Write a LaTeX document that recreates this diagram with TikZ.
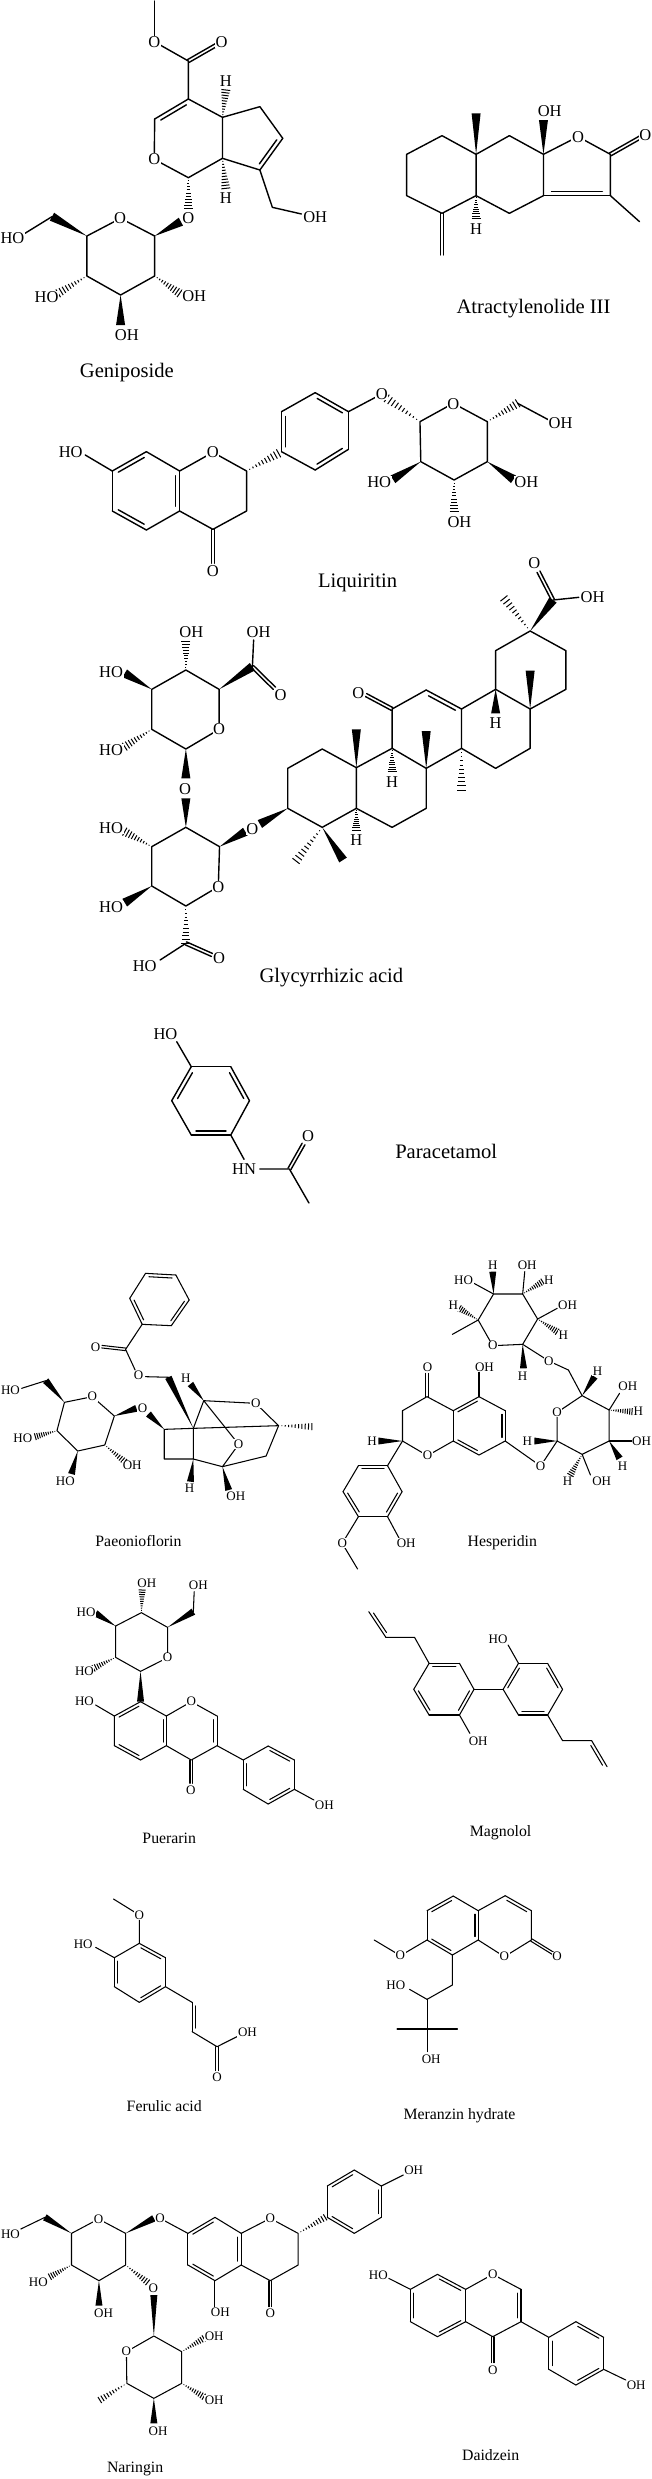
\documentclass[tikz,border=0pt]{standalone}
\usepackage{fontspec}
\setmainfont{Liberation Serif}
\usetikzlibrary{calc}
\tikzset{
	zoomed/.style={x=.4158pt,y=-.33333pt,shift={(0pt,-#1pt)}},
	bond/.style={line width=1.4pt,line cap=round,line join=round},
	thinbond/.style={bond/.append style={line width=1.05pt}},
	hashbond/.style={line width=1pt},
	atom/.style={fill=white,inner sep=.6pt,font=\fontsize{16.5}{16.5}\selectfont},
	atomsmall/.style={atom,font=\fontsize{13}{13}\selectfont},
	title/.style={font=\fontsize{20.6}{20.6}\selectfont},
	titlesmall/.style={font=\fontsize{15.8}{15.8}\selectfont}
}
\def\wdw{4.5pt}
\def\dbloff{4pt}
\def\dbl(#1)(#2){\draw[bond] (#1) -- (#2); \draw[bond] ($(#1)!.12!(#2)!\dbloff!-90:(#2)$) -- ($(#1)!.88!(#2)!\dbloff!-90:(#2)$);}
\def\cdbl(#1)(#2){\draw[bond] ($(#1)!.4*\dbloff!90:(#2)$) -- ($(#2)!.4*\dbloff!-90:(#1)$); \draw[bond] ($(#1)!.4*\dbloff!-90:(#2)$) -- ($(#2)!.4*\dbloff!90:(#1)$);}
\def\wdg(#1)(#2){\fill ($(#2)!\wdw!90:(#1)$) -- (#1) -- ($(#2)!\wdw!-90:(#1)$) -- cycle;}
\def\hsh(#1)(#2){\foreach \t in {.1,.2,...,1} {\draw[hashbond] ($(#1)!\t!(#2)!\t*\wdw!90:(#1)$) -- ($(#1)!\t!(#2)!\t*\wdw!-90:(#1)$);}}
\begin{document}
\begin{tikzpicture}
	\useasboundingbox (0pt,0pt) rectangle (652pt,-2479pt);
	
	%%%%% geniposide %%%%%
	\begin{scope}[zoomed=0]
		\draw[bond] (372,3) -- (372,110);
		\draw[bond] (371,125) -- (453,183) -- (453,297);
		\cdbl(453,183)(520,135);
		\dbl(372,357)(453,297);
		\draw[bond] (372,357) -- (371,478) -- (453,533) -- (535,475) -- (535,352) -- (453,297);
		\draw[bond] (535,352) -- (625,320) -- (680,415);
		\dbl(680,415)(625,510);
		\draw[bond] (535,475) -- (625,510) -- (655,622) -- (725,642);
		\hsh(535,352)(543,270);
		\hsh(535,475)(543,565);
		\hsh(453,533)(453,625);
		\wdg(372,708)(435,665);
		\draw[bond] (209,708) -- (290,655) -- (372,708) -- (372,828) -- (290,885) -- (209,828) -- cycle;
		\wdg(209,708)(125,650);
		\draw[bond] (125,650) -- (60,700);
		\hsh(372,828)(432,880);
		\hsh(209,828)(140,880);
		\wdg(290,885)(290,975);
		\node[atom] (g1) at (371,125) {O};
		\node[atom] (g2) at (533,125) {O};
		\node[atom] (g3) at (543,243) {H};
		\node[atom] (g4) at (371,478) {O};
		\node[atom] (g5) at (543,595) {H};
		\node[atom] (g6) at (453,655) {O};
		\node[atom] (g7) at (758,650) {OH};
		\node[atom] (g8) at (289,655) {O};
		\node[atom] (g9) at (30,715) {HO};
		\node[atom] (g10) at (112,890) {HO};
		\node[atom] (g11) at (467,888) {OH};
		\node[atom] (g12) at (305,1005) {OH};
		\node[title] (geniposide) at (305,1118) {Geniposide};
		
		%%%%% atractylenolide %%%%%
		\draw[bond] (1063,407) -- (1145,463) -- (1145,587) -- (1063,640) -- (978,587) -- (978,463) -- cycle;
		\draw[bond] (1145,463) -- (1225,407) -- (1307,463) -- (1307,587) -- (1225,640) -- (1145,587);
		\draw[bond] (1307,463) -- (1390,410) -- (1468,463) -- (1468,587) -- (1538,665);
		\dbl(1468,587)(1307,587);
		\cdbl(1468,463)(1540,412);
		\cdbl(1063,640)(1063,765);
		\wdg(1145,463)(1145,340);
		\wdg(1307,463)(1307,360);
		\hsh(1145,587)(1145,655);
		\node[atom] (a1) at (1390,410) {O};
		\node[atom] (a2) at (1552,405) {O};
		\node[atom] (a3) at (1322,333) {OH};
		\node[atom] (a4) at (1145,688) {H};
		\node[title] (atractylenolide) at (1283,925) {Atractylenolide III};
	\end{scope}
	
	%%%%% liquiritin %%%%%
	\begin{scope}[zoomed=400]
		\draw[bond] (205,165) -- (270,213);
		\dbl(270,213)(352,155);
		\draw[bond] (352,155) -- (432,213) -- (512,157) -- (593,213) -- (593,333) -- (512,388) -- (432,333);
		\dbl(432,213)(432,333);
		\draw[bond] (432,333) -- (352,390);
		\dbl(352,390)(270,333);
		\draw[bond] (270,333) -- (270,213);
		\cdbl(512,388)(512,490);
		\hsh(593,213)(670,160);
		\dbl(677,155)(677,35);
		\draw[bond] (677,35) -- (758,-22);
		\dbl(758,-22)(838,35);
		\draw[bond] (838,35) -- (838,148);
		\dbl(838,148)(758,210);
		\draw[bond] (758,210) -- (677,155);
		\draw[bond] (838,35) -- (918,-18);
		\hsh(1010,65)(930,-5);
		\draw[bond] (1010,65) -- (1090,10) -- (1172,65) -- (1172,185) -- (1092,240) -- (1012,185) -- cycle;
		\hsh(1172,65)(1245,10);
		\draw[bond] (1245,10) -- (1320,60);
		\wdg(1012,185)(945,238);
		\wdg(1172,185)(1235,238);
		\hsh(1092,240)(1092,335);
		\node[atom] (l1) at (170,157) {HO};
		\node[atom] (l2) at (512,157) {O};
		\node[atom] (l3) at (512,513) {O};
		\node[atom] (l4) at (918,-18) {O};
		\node[atom] (l5) at (1090,12) {O};
		\node[atom] (l6) at (1348,68) {OH};
		\node[atom] (l7) at (912,245) {HO};
		\node[atom] (l8) at (1266,245) {OH};
		\node[atom] (l9) at (1105,365) {OH};
		\node[title] (liquiritin) at (860,548) {Liquiritin};
	\end{scope}
	
	%%%%% glycyrrhizic acid %%%%%
	\begin{scope}[zoomed=600]
		\cdbl(1330,0)(1295,-85);
		\draw[bond] (1330,0) -- (1392,-8);
		\wdg(1275,93)(1330,0);
		\hsh(1275,93)(1212,-5);
		\draw[bond] (1275,93) -- (1361,152) -- (1361,268) -- (1275,327) -- (1192,268) -- (1192,152) -- cycle;
		\wdg(1275,327)(1275,212);
		\wdg(1192,268)(1192,340);
		\draw[bond] (1275,327) -- (1275,445) -- (1192,505) -- (1110,445) -- (1110,327) -- (1192,268);
		\dbl(1025,270)(1110,327);
		\draw[bond] (1025,270) -- (943,327) -- (943,445) -- (1025,505) -- (1110,445);
		\cdbl(943,327)(880,285);
		\wdg(1025,505)(1025,393);
		\hsh(1110,445)(1110,570);
		\hsh(943,445)(943,515);
		\draw[bond] (943,445) -- (857,503) -- (857,625) -- (943,682) -- (1025,625) -- (1025,505);
		\wdg(857,503)(857,388);
		\draw[bond] (857,503) -- (775,447) -- (692,505) -- (692,625) -- (775,682) -- (857,625);
		\hsh(857,625)(857,690);
		\hsh(775,682)(712,783);
		\wdg(775,682)(825,780);
		\wdg(692,625)(625,672);
		\wdg(528,740)(590,695);
		\draw[bond] (528,740) -- (447,682) -- (365,740) -- (365,858) -- (447,918) -- (525,860) -- cycle;
		\wdg(447,682)(447,595);
		\wdg(447,447)(447,535);
		\hsh(365,740)(300,695);
		\wdg(365,858)(300,908);
		\hsh(447,918)(447,1030);
		\draw[bond] (447,1030) -- (385,1080);
		\cdbl(447,1030)(510,1065);
		\draw[bond] (447,447) -- (527,388) -- (527,268) -- (447,210) -- (365,268) -- (365,388) -- cycle;
		\hsh(365,388)(300,440);
		\wdg(365,268)(300,220);
		\hsh(447,210)(447,125);
		\wdg(527,268)(607,200);
		\draw[bond] (607,200) -- (610,120);
		\cdbl(607,200)(660,265);
		\node[atom] (y1) at (1285,-110) {O};
		\node[atom] (y2) at (1425,-10) {OH};
		\node[atom] (y3) at (1192,370) {H};
		\node[atom] (y4) at (862,280) {O};
		\node[atom] (y5) at (943,545) {H};
		\node[atom] (y6) at (857,720) {H};
		\node[atom] (y7) at (607,687) {O};
		\node[atom] (y8) at (445,567) {O};
		\node[atom] (y9) at (525,860) {O};
		\node[atom] (y10) at (267,685) {HO};
		\node[atom] (y11) at (267,920) {HO};
		\node[atom] (y12) at (348,1097) {HO};
		\node[atom] (y13) at (527,1073) {O};
		\node[atom] (y14) at (527,388) {O};
		\node[atom] (y15) at (267,450) {HO};
		\node[atom] (y16) at (267,215) {HO};
		\node[atom] (y17) at (460,95) {OH};
		\node[atom] (y18) at (622,95) {OH};
		\node[atom] (y19) at (675,285) {O};
		\node[title] (glycyrrhizic) at (797,1133) {Glycyrrhizic acid};
	\end{scope}
	
	%%%%% paracetamol %%%%%
	\begin{scope}[zoomed=1000]
		\draw[bond] (425,125) -- (460,200);
		\dbl(413,302)(460,200);
		\draw[bond] (460,200) -- (555,200);
		\dbl(555,200)(600,302);
		\draw[bond] (600,302) -- (555,405);
		\dbl(555,405)(460,405);
		\draw[bond] (460,405) -- (413,302);
		\draw[bond] (555,405) -- (587,478);
		\draw[bond] (625,507) -- (696,507) -- (743,609);
		\cdbl(696,507)(730,432);
		\node[atom] (p1) at (398,102) {HO};
		\node[atom] (p2) at (587,507) {HN};
		\node[atom] (p3) at (741,408) {O};
		\node[title] (paracetamol) at (1073,453) {Paracetamol};
	\end{scope}
	
	%%%%% paeoniflorin %%%%%
	\begin{scope}[zoomed=1160,thinbond]
		\def\wdw{3.5pt}
		\def\dbloff{3.2pt}
		\dbl(350,340)(423,345);
		\draw[bond] (423,345) -- (455,420);
		\dbl(455,420)(412,497);
		\draw[bond] (412,497) -- (342,493);
		\dbl(342,493)(312,415);
		\draw[bond] (312,415) -- (350,340);
		\draw[bond] (342,493) -- (302,568) -- (325,630);
		\cdbl(302,568)(245,560);
		\draw[bond] (350,650) -- (412,652);
		\wdg(465,805)(405,652);
		\draw[bond] (395,808) -- (465,805) -- (465,897) -- (395,897) -- cycle;
		\wdg(395,808)(357,762);
		\wdg(275,768)(328,745);
		\draw[bond] (465,805) -- (490,722) -- (615,730) -- (670,797) -- (465,805);
		\draw[bond] (490,722) -- (574,853) -- (535,920) -- (640,888) -- (670,797);
		\draw[bond] (465,897) -- (535,920);
		\wdg(535,920)(550,990);
		\wdg(465,897)(458,965);
		\wdg(490,722)(458,672);
		\hsh(670,797)(750,800);
		\draw[bond] (155,727) -- (222,710) -- (275,768) -- (252,855) -- (187,873) -- (137,812) -- cycle;
		\wdg(155,727)(110,662);
		\draw[bond] (110,662) -- (52,685);
		\hsh(137,812)(85,830);
		\wdg(187,873)(172,942);
		\hsh(252,855)(300,905);
		\node[atomsmall] (n1) at (230,562) {O};
		\node[atomsmall] (n2) at (333,647) {O};
		\node[atomsmall] (n3) at (447,655) {H};
		\node[atomsmall] (n4) at (615,730) {O};
		\node[atomsmall] (n5) at (574,853) {O};
		\node[atomsmall] (n6) at (456,985) {H};
		\node[atomsmall] (n7) at (567,1010) {OH};
		\node[atomsmall] (n8) at (343,745) {O};
		\node[atomsmall] (n9) at (222,710) {O};
		\node[atomsmall] (n10) at (25,690) {HO};
		\node[atomsmall] (n11) at (55,836) {HO};
		\node[atomsmall] (n12) at (157,963) {HO};
		\node[atomsmall] (n13) at (318,917) {OH};
		
		%%%%% hesperidin %%%%%
		\draw[bond] (1187,402) -- (1257,402) -- (1293,477) -- (1257,553) -- (1185,557) -- (1150,480) -- cycle;
		\wdg(1187,402)(1185,335);
		\draw[bond] (1187,402) -- (1140,370);
		\draw[bond] (1257,402) -- (1262,335);
		\hsh(1257,402)(1305,365);
		\draw[bond] (1293,477) -- (1340,445);
		\hsh(1293,477)(1340,515);
		\hsh(1150,480)(1105,445);
		\draw[bond] (1150,480) -- (1088,523);
		\wdg(1257,553)(1259,625);
		\draw[bond] (1257,553) -- (1320,603) -- (1367,630) -- (1400,707);
		\wdg(1400,707)(1430,650);
		\draw[bond] (1400,707) -- (1340,757) -- (1340,843) -- (1400,883) -- (1465,843) -- (1465,750) -- cycle;
		\draw[bond] (1465,750) -- (1490,700);
		\hsh(1465,750)(1520,755);
		\draw[bond] (1465,843) -- (1520,843);
		\wdg(1465,843)(1490,895);
		\draw[bond] (1400,883) -- (1420,945);
		\hsh(1400,883)(1372,945);
		\wdg(1340,843)(1285,843);
		\draw[bond] (1340,843) -- (1300,918) -- (1215,843);
		\dbl(1090,752)(1152,710);
		\draw[bond] (1152,710) -- (1215,752);
		\dbl(1215,752)(1215,843);
		\draw[bond] (1215,843) -- (1152,885);
		\dbl(1152,885)(1090,843);
		\draw[bond] (1090,843) -- (1090,752);
		\draw[bond] (1152,710) -- (1152,635);
		\draw[bond] (1090,752) -- (1027,710) -- (968,752) -- (968,843) -- (1028,887) -- (1090,843);
		\cdbl(1027,710)(1027,640);
		\wdg(968,843)(910,843);
		\draw[bond] (968,843) -- (932,917);
		\dbl(862,917)(932,917);
		\draw[bond] (932,917) -- (967,995);
		\dbl(967,995)(932,1070);
		\draw[bond] (932,1070) -- (862,1070);
		\dbl(862,1070)(825,995);
		\draw[bond] (825,995) -- (862,917);
		\draw[bond] (862,1070) -- (823,1150) -- (860,1227);
		\draw[bond] (932,1070) -- (960,1135);
		\node[atomsmall] (h1) at (1185,315) {H};
		\node[atomsmall] (h2) at (1115,360) {HO};
		\node[atomsmall] (h3) at (1268,315) {OH};
		\node[atomsmall] (h4) at (1320,360) {H};
		\node[atomsmall] (h5) at (1365,437) {OH};
		\node[atomsmall] (h6) at (1355,525) {H};
		\node[atomsmall] (h7) at (1090,437) {H};
		\node[atomsmall] (h8) at (1185,557) {O};
		\node[atomsmall] (h9) at (1257,648) {H};
		\node[atomsmall] (h10) at (1320,603) {O};
		\node[atomsmall] (h11) at (1437,633) {H};
		\node[atomsmall] (h12) at (1340,757) {O};
		\node[atomsmall] (h13) at (1510,678) {OH};
		\node[atomsmall] (h14) at (1535,755) {H};
		\node[atomsmall] (h15) at (1543,843) {OH};
		\node[atomsmall] (h16) at (1497,920) {H};
		\node[atomsmall] (h17) at (1447,965) {OH};
		\node[atomsmall] (h18) at (1365,965) {H};
		\node[atomsmall] (h19) at (1268,843) {H};
		\node[atomsmall] (h20) at (1300,918) {O};
		\node[atomsmall] (h21) at (1165,622) {OH};
		\node[atomsmall] (h22) at (1028,622) {O};
		\node[atomsmall] (h23) at (1028,887) {O};
		\node[atomsmall] (h24) at (895,843) {H};
		\node[atomsmall] (h25) at (823,1150) {O};
		\node[atomsmall] (h26) at (977,1150) {OH};
	\end{scope}
	
	%%%%% puerarin and magnolol %%%%%
	\begin{scope}[zoomed=1500,thinbond]
		\def\wdw{3.5pt}
		\def\dbloff{3.2pt}
		\node[titlesmall] (paeoniflorin) at (333,123) {Paeonioflorin};
		\node[titlesmall] (hesperidin) at (1208,128) {Hesperidin};
		\draw[bond] (403,382) -- (403,473) -- (338,514) -- (278,472) -- (278,378) -- (340,338) -- cycle;
		\wdg(403,382)(465,335);
		\draw[bond] (465,335) -- (467,275);
		\hsh(340,338)(342,270);
		\wdg(278,378)(230,340);
		\hsh(278,472)(225,505);
		\wdg(338,514)(338,605);
		\dbl(275,648)(338,605);
		\draw[bond] (338,605) -- (400,648);
		\dbl(400,648)(400,737);
		\draw[bond] (400,737) -- (338,780);
		\dbl(338,780)(275,737);
		\draw[bond] (275,737) -- (275,648) -- (230,615);
		\draw[bond] (400,648) -- (460,605) -- (522,648);
		\dbl(522,648)(522,737);
		\draw[bond] (522,737) -- (460,780) -- (400,737);
		\cdbl(460,780)(460,850);
		\draw[bond] (522,737) -- (585,780) -- (645,738);
		\dbl(645,738)(708,780);
		\draw[bond] (708,780) -- (708,868);
		\dbl(708,868)(645,912);
		\draw[bond] (645,912) -- (585,868);
		\dbl(585,868)(585,780);
		\draw[bond] (708,868) -- (755,900);
		\node[atomsmall] (r1) at (403,473) {O};
		\node[atomsmall] (r2) at (477,255) {OH};
		\node[atomsmall] (r3) at (353,250) {OH};
		\node[atomsmall] (r4) at (207,337) {HO};
		\node[atomsmall] (r5) at (203,513) {HO};
		\node[atomsmall] (r6) at (203,605) {HO};
		\node[atomsmall] (r7) at (460,605) {O};
		\node[atomsmall] (r8) at (459,870) {O};
		\node[atomsmall] (r9) at (780,917) {OH};
		\node[titlesmall] (puerarin) at (407,1015) {Puerarin};
		
		\dbl(928,412)(887,335);
		\draw[bond] (928,412) -- (997,412) -- (1032,490);
		\dbl(1032,490)(1105,490);
		\draw[bond] (1105,490) -- (1140,568);
		\dbl(1140,568)(1105,645);
		\draw[bond] (1105,645) -- (1032,645);
		\dbl(1032,645)(995,568);
		\draw[bond] (995,568) -- (1032,490);
		\draw[bond] (1105,645) -- (1130,700);
		\draw[bond] (1140,568) -- (1210,568);
		\dbl(1210,568)(1247,490);
		\draw[bond] (1247,490) -- (1317,490);
		\dbl(1317,490)(1353,568);
		\draw[bond] (1353,568) -- (1317,645);
		\dbl(1317,645)(1247,645);
		\draw[bond] (1247,645) -- (1210,568);
		\draw[bond] (1247,490) -- (1222,435);
		\draw[bond] (1317,645) -- (1353,722) -- (1423,722);
		\dbl(1423,722)(1460,800);
		\node[atomsmall] (m1) at (1198,417) {HO};
		\node[atomsmall] (m2) at (1150,725) {OH};
		\node[titlesmall] (magnolol) at (1204,997) {Magnolol};
	\end{scope}
	
	%%%%% ferulic acid and meranzin hydrate %%%%%
	\begin{scope}[zoomed=1840,thinbond]
		\def\wdw{3.5pt}
		\def\dbloff{3.2pt}
		\draw[bond] (273,177) -- (335,225) -- (335,310);
		\dbl(335,310)(398,353);
		\draw[bond] (398,353) -- (398,440);
		\dbl(398,440)(335,487);
		\draw[bond] (335,487) -- (275,440);
		\dbl(275,440)(275,353);
		\draw[bond] (275,353) -- (335,310);
		\draw[bond] (275,353) -- (230,322);
		\draw[bond] (398,440) -- (462,487);
		\dbl(462,575)(462,487);
		\draw[bond] (462,575) -- (522,620) -- (570,590);
		\cdbl(522,620)(522,692);
		\node[atomsmall] (f1) at (335,225) {O};
		\node[atomsmall] (f2) at (200,313) {HO};
		\node[atomsmall] (f3) at (595,578) {OH};
		\node[atomsmall] (f4) at (522,712) {O};
		\node[titlesmall] (ferulic) at (395,798) {Ferulic acid};
		
		\dbl(1027,212)(1090,168);
		\draw[bond] (1090,168) -- (1150,212);
		\dbl(1150,212)(1150,300);
		\draw[bond] (1150,300) -- (1088,345);
		\dbl(1088,345)(1027,300);
		\draw[bond] (1027,300) -- (1027,212);
		\draw[bond] (1150,212) -- (1215,167);
		\dbl(1215,167)(1278,212);
		\draw[bond] (1278,212) -- (1278,300) -- (1213,350) -- (1150,300);
		\cdbl(1278,300)(1330,340);
		\draw[bond] (1027,300) -- (963,347) -- (900,300);
		\draw[bond] (1088,345) -- (1088,435) -- (1027,478) -- (985,448);
		\draw[bond] (1027,478) -- (1027,635);
		\draw[bond] (955,567) -- (1100,567);
		\node[atomsmall] (z1) at (1213,350) {O};
		\node[atomsmall] (z2) at (1340,350) {O};
		\node[atomsmall] (z3) at (963,347) {O};
		\node[atomsmall] (z4) at (952,437) {HO};
		\node[atomsmall] (z5) at (1037,658) {OH};
		\node[titlesmall] (meranzin) at (1105,827) {Meranzin hydrate};
	\end{scope}
	
	%%%%% naringin and daidzein %%%%%
	\begin{scope}[zoomed=2130,thinbond]
		\def\wdw{3.5pt}
		\def\dbloff{3.2pt}
		\draw[bond] (172,310) -- (237,267) -- (302,310) -- (302,405) -- (238,452) -- (172,405) -- cycle;
		\wdg(172,310)(108,262);
		\draw[bond] (108,262) -- (50,297);
		\hsh(172,405)(120,440);
		\wdg(238,452)(238,527);
		\hsh(302,405)(355,457);
		\wdg(302,310)(370,265);
		\draw[bond] (385,265) -- (452,310);
		\dbl(452,310)(517,262);
		\draw[bond] (517,262) -- (580,310);
		\dbl(580,310)(580,405);
		\draw[bond] (580,405) -- (517,452);
		\dbl(517,452)(452,405);
		\draw[bond] (452,405) -- (452,310);
		\draw[bond] (517,452) -- (517,530);
		\draw[bond] (580,310) -- (650,265) -- (717,310) -- (717,405) -- (650,452) -- (580,405);
		\cdbl(650,452)(650,530);
		\hsh(717,310)(782,262);
		\dbl(787,168)(852,120);
		\draw[bond] (852,120) -- (917,168);
		\dbl(917,168)(917,262);
		\draw[bond] (917,262) -- (852,310);
		\dbl(852,310)(787,262);
		\draw[bond] (787,262) -- (787,168);
		\draw[bond] (917,168) -- (970,135);
		\wdg(370,618)(370,495);
		\draw[bond] (370,618) -- (437,665) -- (437,760) -- (370,805) -- (305,760) -- (304,665) -- cycle;
		\hsh(437,665)(490,625);
		\hsh(437,760)(490,800);
		\wdg(370,805)(370,880);
		\hsh(305,760)(240,810);
		\node[atomsmall] (i1) at (237,267) {O};
		\node[atomsmall] (i2) at (25,312) {HO};
		\node[atomsmall] (i3) at (92,457) {HO};
		\node[atomsmall] (i4) at (249,550) {OH};
		\node[atomsmall] (i5) at (369,475) {O};
		\node[atomsmall] (i6) at (385,265) {O};
		\node[atomsmall] (i7) at (530,548) {OH};
		\node[atomsmall] (i8) at (650,265) {O};
		\node[atomsmall] (i9) at (650,550) {O};
		\node[atomsmall] (i10) at (995,122) {OH};
		\node[atomsmall] (i11) at (304,665) {O};
		\node[atomsmall] (i12) at (515,618) {OH};
		\node[atomsmall] (i13) at (515,810) {OH};
		\node[atomsmall] (i14) at (380,905) {OH};
		\node[titlesmall] (naringin) at (325,1018) {Naringin};
		
		\draw[bond] (935,445) -- (987,478);
		\dbl(987,575)(987,478);
		\draw[bond] (987,478) -- (1052,433);
		\dbl(1052,433)(1120,478);
		\draw[bond] (1120,478) -- (1120,575);
		\dbl(1120,575)(1052,620);
		\draw[bond] (1052,620) -- (987,575);
		\draw[bond] (1120,478) -- (1185,433) -- (1253,478);
		\dbl(1253,478)(1253,575);
		\draw[bond] (1253,575) -- (1185,620) -- (1120,575);
		\cdbl(1185,620)(1185,698);
		\draw[bond] (1253,575) -- (1320,622) -- (1385,575);
		\dbl(1385,575)(1452,622);
		\draw[bond] (1452,622) -- (1452,718);
		\dbl(1452,718)(1385,765);
		\draw[bond] (1385,765) -- (1320,718);
		\dbl(1320,718)(1320,622);
		\draw[bond] (1452,718) -- (1505,750);
		\node[atomsmall] (d1) at (910,435) {HO};
		\node[atomsmall] (d2) at (1185,433) {O};
		\node[atomsmall] (d3) at (1185,720) {O};
		\node[atomsmall] (d4) at (1530,767) {OH};
		\node[titlesmall] (daidzein) at (1180,975) {Daidzein};
	\end{scope}
\end{tikzpicture}
\end{document}
